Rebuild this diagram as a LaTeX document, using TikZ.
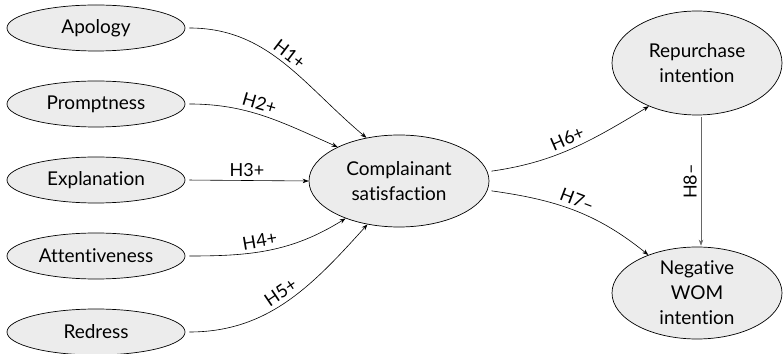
\documentclass[tikz,border=0pt]{standalone}
\usepackage{fontspec}
\setmainfont{Lato}[Ligatures=NoCommon]
\usepackage{tikz}
\usetikzlibrary{shapes.geometric, arrows.meta, positioning}
\definecolor{constructgray}{RGB}{236, 236, 236}

\begin{document}
\begin{tikzpicture}[x=1pt, y=1pt,
    construct/.style={draw, ellipse, fill=constructgray, line width=0.7pt, inner sep=0pt,
                      align=center, font=\fontsize{19}{25}\selectfont},
    driver/.style={construct, minimum width=178pt, minimum height=46pt},
    hypo/.style={-{Stealth[length=6pt, width=4.5pt]}, line width=0.6pt, shorten <=4pt},
    hyp/.style={font=\fontsize{18}{20}\selectfont, inner sep=4pt}
]
    \useasboundingbox (0,0) rectangle (783,353);

    % antecedents
    \node[driver] (apology)   at (96,325) {Apology};
    \node[driver] (prompt)    at (96,249) {Promptness};
    \node[driver] (explain)   at (96,173) {Explanation};
    \node[driver] (attentive) at (96,97)  {Attentiveness};
    \node[driver] (redress)   at (96,21)  {Redress};

    % satisfaction and outcomes
    \node[construct, minimum width=180pt, minimum height=92pt] (satis) at (399,172)
        {Complainant\\satisfaction};
    \node[construct, minimum width=170pt, minimum height=104pt] (repurch) at (697,290)
        {Repurchase\\intention};
    \node[construct, minimum width=170pt, minimum height=92pt] (negwom) at (697,60)
        {Negative\\WOM\\intention};

    % hypotheses
    \draw[hypo] (apology.east) to[out=0, in=140]
        node[hyp, sloped, above, pos=0.5] {H1+} (satis.127);
    \draw[hypo] (prompt.east) to[out=0, in=156]
        node[hyp, sloped, above, pos=0.45] {H2+} (satis.151);
    \draw[hypo] (explain.east) --
        node[hyp, above, pos=0.5] {H3+} (satis.west);
    \draw[hypo] (attentive.east) to[out=0, in=212]
        node[hyp, sloped, above, pos=0.45] {H4+} (satis.215);
    \draw[hypo] (redress.east) to[out=0, in=228]
        node[hyp, sloped, above, pos=0.5] {H5+} (satis.234);

    \draw[hypo] (satis.6) to[out=8, in=211]
        node[hyp, sloped, above, pos=0.5] {H6+} (repurch.222);
    \draw[hypo] (satis.-6) to[out=-8, in=141]
        node[hyp, sloped, above, pos=0.5] {H7--} (negwom.142);

    \draw[hypo, draw=black!60, shorten <=0pt] ([xshift=4pt, yshift=-2pt]repurch.south) --
        node[hyp, rotate=90, above, pos=0.5] {H8--} ([xshift=4pt, yshift=1pt]negwom.north);
\end{tikzpicture}
\end{document}
